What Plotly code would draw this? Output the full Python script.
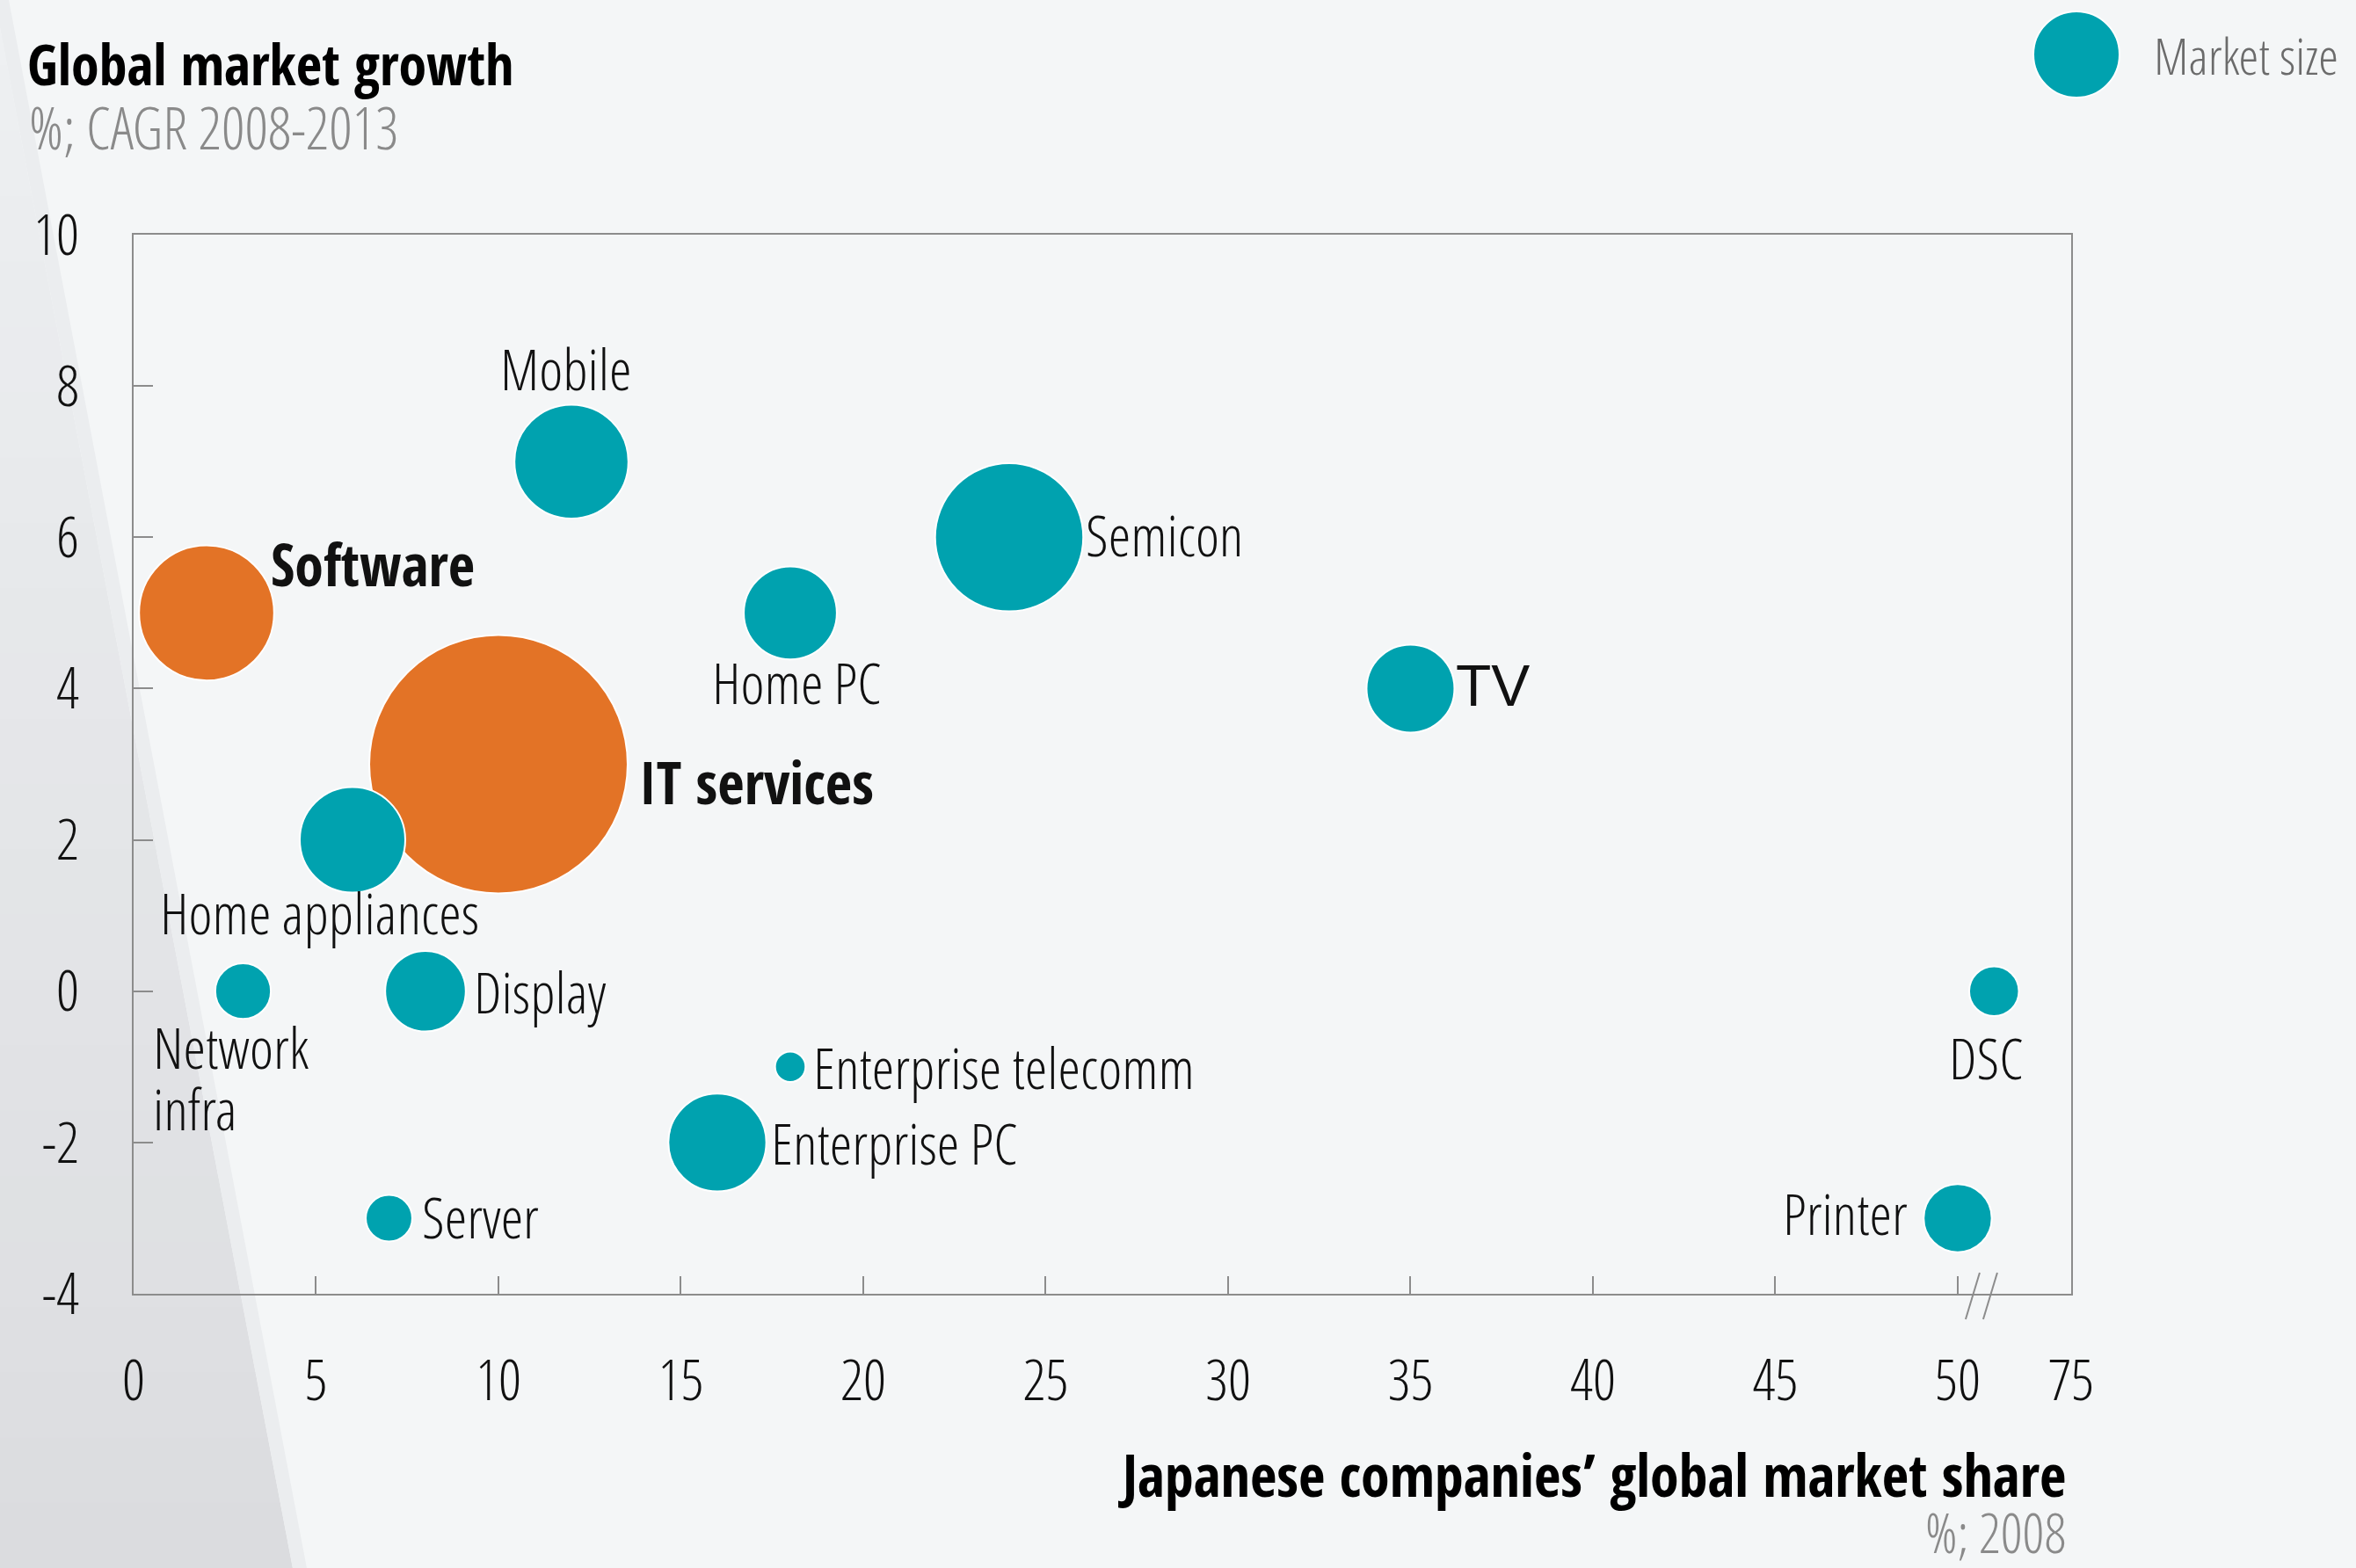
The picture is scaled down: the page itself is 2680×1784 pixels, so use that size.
import plotly.graph_objects as go

# ---------------------------------------------------------------- data
categories = ["Software", "IT services", "Mobile", "Semicon", "Home PC", "TV",
              "Home appliances", "Network\ninfra", "Display", "Enterprise telecomm",
              "Enterprise PC", "Server", "DSC", "Printer"]
market_share_2008 = [2, 10, 12, 24, 18, 35, 6, 3, 8, 18, 16, 7, 58, 50]   # %
growth_cagr = [5, 3, 7, 6, 5, 4, 2, 0, 0, -1, -2, -3, 0, -3]              # %, 2008-2013
market_size = [59, 216, 42, 71, 28, 25, 36, 10, 21, 3, 31, 7, 8, 15]     # relative size
focus_segments = ["Software", "IT services"]
legend_market_size = 24

x_tick_values = [0, 5, 10, 15, 20, 25, 30, 35, 40, 45, 50, 75]
y_tick_values = [-4, -2, 0, 2, 4, 6, 8, 10]

# ---------------------------------------------------------------- styling
W, H = 2680, 1784
TEAL = "#00A2AF"
ORANGE = "#E37326"
AXIS_GREY = "#8c8c8c"
BG = "#f4f6f7"
NARROW_BOLD = "Open Sans Condensed, Roboto Condensed, Liberation Sans Narrow, Roboto, sans-serif"
NARROW_LIGHT = "Open Sans Condensed Light, Roboto, sans-serif"
REGULAR = "Liberation Sans, Arial, sans-serif"
SIZEREF = 0.005
LABEL_SIZE = 65
BOLD_LABEL_SIZE = 66
LINE_GAP = 70

# plot box in figure pixels
BOX_L, BOX_R, BOX_T, BOX_B = 152, 2356, 267, 1472

# the x axis is broken after 50: the 50-75 stretch is squeezed
BREAK_AT, BREAK_END, SQUEEZE = 50, 75, 0.1244


def axis_pos(v):
    return v if v <= BREAK_AT else BREAK_AT + (v - BREAK_AT) * SQUEEZE


X_RANGE = [0, axis_pos(BREAK_END)]
Y_RANGE = [-4, 10]


def to_px_x(v):
    return BOX_L + (v - X_RANGE[0]) / (X_RANGE[1] - X_RANGE[0]) * (BOX_R - BOX_L)


def px_to_paper(px, py):
    return px / W, 1 - py / H


# label placement relative to each bubble centre (pixels)
label_layout = {
    "Software": dict(xanchor="left", dx=71, dy=56),
    "IT services": dict(xanchor="left", dx=158, dy=-19),
    "Mobile": dict(xanchor="center", dx=-6, dy=106),
    "Semicon": dict(xanchor="left", dx=85, dy=3),
    "Home PC": dict(xanchor="center", dx=8, dy=-79),
    "TV": dict(xanchor="left", dx=50, dy=3),
    "Home appliances": dict(xanchor="left", dx=-221, dy=-82),
    "Network\ninfra": dict(xanchor="left", dx=-105, dy=-63),
    "Display": dict(xanchor="left", dx=53, dy=0),
    "Enterprise telecomm": dict(xanchor="left", dx=24, dy=0),
    "Enterprise PC": dict(xanchor="left", dx=59, dy=0),
    "Server": dict(xanchor="left", dx=36, dy=2),
    "DSC": dict(xanchor="center", dx=-9, dy=-75),
    "Printer": dict(xanchor="right", dx=-55, dy=6),
}

fig = go.Figure()

# ---------------------------------------------------------------- backdrop (greyish diagonal band on the left)
def edge_x(py):
    return 10 + 0.19 * py


def paper_path(points):
    pts = [px_to_paper(x, y) for x, y in points]
    return "M " + " L ".join("%f %f" % p for p in pts) + " Z"


shapes = []
n_bands = 24
top_rgb = (238, 240, 242)
bot_rgb = (219, 220, 223)
for i in range(n_bands):
    y0 = H * i / n_bands
    y1 = H * (i + 1) / n_bands + 1
    t = (i + 0.5) / n_bands
    c = tuple(round(a + (b - a) * t) for a, b in zip(top_rgb, bot_rgb))
    shapes.append(dict(
        type="path", xref="paper", yref="paper", layer="below", line=dict(width=0),
        fillcolor="rgb(%d,%d,%d)" % c,
        path=paper_path([(0, y0), (edge_x(y0) - 16, y0), (edge_x(y1) - 16, y1), (0, y1)]),
    ))
# lighter stripe along the band edge
shapes.append(dict(
    type="path", xref="paper", yref="paper", layer="below", line=dict(width=0),
    fillcolor="rgb(235,237,239)",
    path=paper_path([(edge_x(0) - 16, 0), (edge_x(0), 0), (edge_x(H), H), (edge_x(H) - 16, H)]),
))

# axis-break marks on the x axis
bx = to_px_x(axis_pos(BREAK_AT))
by = BOX_B
for off in (9, 29):
    (x0, y0), (x1, y1) = px_to_paper(bx + off + 16, by - 24), px_to_paper(bx + off, by + 29)
    shapes.append(dict(type="line", xref="paper", yref="paper", layer="above",
                       x0=x0, y0=y0, x1=x1, y1=y1,
                       line=dict(color=AXIS_GREY, width=2)))

# ---------------------------------------------------------------- bubbles
colors = [ORANGE if c in focus_segments else TEAL for c in categories]
fig.add_trace(go.Scatter(
    x=[axis_pos(v) for v in market_share_2008], y=growth_cagr,
    mode="markers",
    marker=dict(size=market_size, sizemode="area", sizeref=SIZEREF,
                color=colors, opacity=1, line=dict(color="white", width=2)),
    hoverinfo="skip", showlegend=False, cliponaxis=False,
))

# size key, placed in figure pixels
fig.add_trace(go.Scatter(
    x=[2362], y=[62], xaxis="x2", yaxis="y2", mode="markers",
    marker=dict(size=[legend_market_size], sizemode="area", sizeref=SIZEREF,
                color=TEAL, opacity=1, line=dict(color="white", width=2)),
    hoverinfo="skip", showlegend=False,
))

# ---------------------------------------------------------------- labels
annotations = []
for cat, sx, gy in zip(categories, market_share_2008, growth_cagr):
    lay = label_layout[cat]
    if cat == "TV":
        font = dict(family=REGULAR, size=66, color="#111111")
    elif cat in focus_segments:
        font = dict(family=NARROW_BOLD, size=BOLD_LABEL_SIZE, color="#111111", weight=700)
    else:
        font = dict(family=NARROW_LIGHT, size=LABEL_SIZE, color="#111111", weight=300)
    # multi-line labels are stacked line by line with a tight gap
    for k, line in enumerate(cat.split("\n")):
        annotations.append(dict(
            x=axis_pos(sx), y=gy, xref="x", yref="y", text=line,
            showarrow=False, xanchor=lay["xanchor"], yanchor="middle",
            xshift=lay["dx"], yshift=lay["dy"] - k * LINE_GAP, font=font,
        ))


def fig_note(text, px, py, anchor, size, color, family, weight):
    x, y = px_to_paper(px, py)
    annotations.append(dict(
        x=x, y=y, xref="paper", yref="paper", text=text, showarrow=False,
        xanchor=anchor, yanchor="middle",
        font=dict(family=family, size=size, color=color, weight=weight),
    ))


fig_note("Global market growth", 29, 72, "left", 64, "#000000", NARROW_BOLD, 700)
fig_note("%; CAGR 2008-2013", 31, 144, "left", 66, "#8a8a8a", NARROW_LIGHT, 300)
fig_note("Japanese companies’ global market share", 2352, 1677, "right", 66, "#000000", NARROW_BOLD, 700)
fig_note("%; 2008", 2352, 1743, "right", 62, "#8a8a8a", NARROW_LIGHT, 300)
fig_note("Market size", 2448, 62, "left", 58, "#6b6b6b", NARROW_LIGHT, 300)

# ---------------------------------------------------------------- axes
tick_font = dict(family=NARROW_LIGHT, size=65, color="#111111", weight=300)
fig.update_layout(
    width=W, height=H,
    margin=dict(l=0, r=0, t=0, b=0, autoexpand=False),
    paper_bgcolor=BG, plot_bgcolor="rgba(0,0,0,0)",
    shapes=shapes, annotations=annotations,
    xaxis=dict(
        domain=[BOX_L / W, BOX_R / W], range=X_RANGE,
        tickvals=[axis_pos(v) for v in x_tick_values],
        ticktext=[str(v) for v in x_tick_values],
        ticks="inside", ticklen=20, tickwidth=2, tickcolor=AXIS_GREY,
        showline=True, linecolor=AXIS_GREY, linewidth=2, mirror=True,
        showgrid=False, zeroline=False, tickfont=tick_font, ticklabelstandoff=41,
    ),
    yaxis=dict(
        domain=[1 - BOX_B / H, 1 - BOX_T / H], range=Y_RANGE,
        tickvals=y_tick_values, ticktext=[str(v) for v in y_tick_values],
        ticks="inside", ticklen=22, tickwidth=2, tickcolor=AXIS_GREY,
        showline=True, linecolor=AXIS_GREY, linewidth=2, mirror=True,
        showgrid=False, zeroline=False, tickfont=tick_font, ticklabelstandoff=47,
    ),
    xaxis2=dict(domain=[0, 1], range=[0, W], visible=False, fixedrange=True, anchor="y2"),
    yaxis2=dict(domain=[0, 1], range=[H, 0], visible=False, fixedrange=True, anchor="x2"),
)

fig.write_html("out.html", config={"displayModeBar": False})
